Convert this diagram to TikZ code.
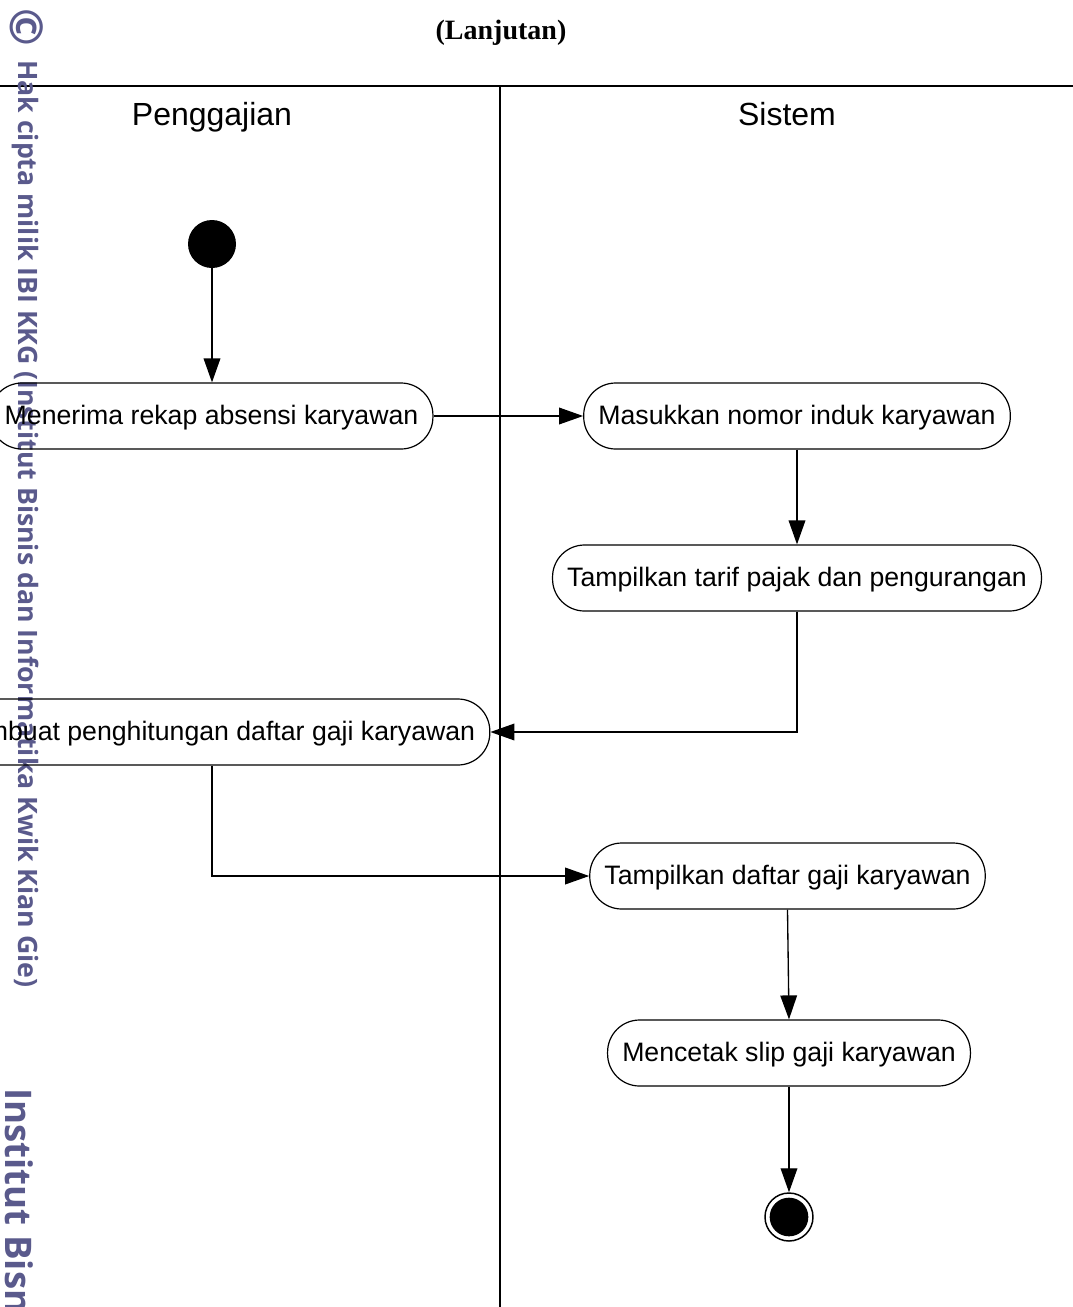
\documentclass[tikz,border=0pt]{standalone}
\usepackage{fontspec}
\setmainfont{Liberation Sans}
\newfontfamily\titlefont{Liberation Serif}
\newfontfamily\markfont{Open Sans}
\usetikzlibrary{arrows.meta}
\definecolor{markblue}{RGB}{90,90,140}

\begin{document}
\begin{tikzpicture}
[x=0.75pt, y=-0.75pt,
activity/.style={draw, line width=0.9pt, rounded corners=24pt, minimum height=49.5pt, inner xsep=11pt, text height=16pt, text depth=4pt, font=\fontsize{20}{24}\selectfont},
lane/.style={line width=1.4pt},
flow/.style={line width=1pt, -{Triangle[length=18pt,width=12.5pt]}},
lanetitle/.style={anchor=base, font=\fontsize{24}{28}\selectfont},
stamp/.style={text=markblue, rotate=-90, inner sep=0pt}]
\useasboundingbox (0,0) rectangle (1073,1307);
\clip (0,0) rectangle (1073,1307);
\node[font=\titlefont\bfseries\fontsize{21}{25}\selectfont] (title) at (501,33) {(Lanjutan)};
\draw[lane] (0,86) -- (1073,86);
\draw[lane] (500,86) -- (500,1307);
\node[lanetitle] (pay) at (212,125) {Penggajian};
\node[lanetitle] (sys) at (787,125) {Sistem};
\node[stamp, font=\markfont\bfseries\fontsize{34}{34}\selectfont] (copysign) at (27,27) {©};
\node[stamp, anchor=west, font=\markfont\bfseries\fontsize{20}{22}\selectfont] (copyright) at (25,60) {Hak cipta milik IBI KKG (Institut Bisnis dan Informatika Kwik Kian Gie)};
\node[stamp, anchor=west, font=\markfont\bfseries\fontsize{27.5}{30}\selectfont] (institute) at (19,1088) {Institut Bisn};
\node[circle, fill, inner sep=0pt, minimum size=36pt] (start) at (212,244) {};
\node[activity] (receive) at (211.5,416) {Menerima rekap absensi karyawan};
\node[activity] (entry) at (797,416) {Masukkan nomor induk karyawan};
\node[activity] (rates) at (797,578) {Tampilkan tarif pajak dan pengurangan};
\node[activity] (compute) at (212,732) {Membuat penghitungan daftar gaji karyawan};
\node[activity] (payroll) at (787.5,876) {Tampilkan daftar gaji karyawan};
\node[activity] (slip) at (789,1053) {Mencetak slip gaji karyawan};
\node[circle, draw, line width=1.1pt, inner sep=0pt, minimum size=36pt] (end) at (789,1217) {};
\fill (end.center) circle (14.5pt);
\draw[flow] (start) -- (start |- receive.north);
\draw[flow] (receive) -- (entry);
\draw[flow] (entry) -- (rates);
\draw[flow] (rates.south) |- (compute.east);
\draw[flow] (compute.south) |- (payroll.west);
\draw[flow] (payroll.south) -- (slip.north);
\draw[flow] (slip) -- (end);
\end{tikzpicture}
\end{document}
